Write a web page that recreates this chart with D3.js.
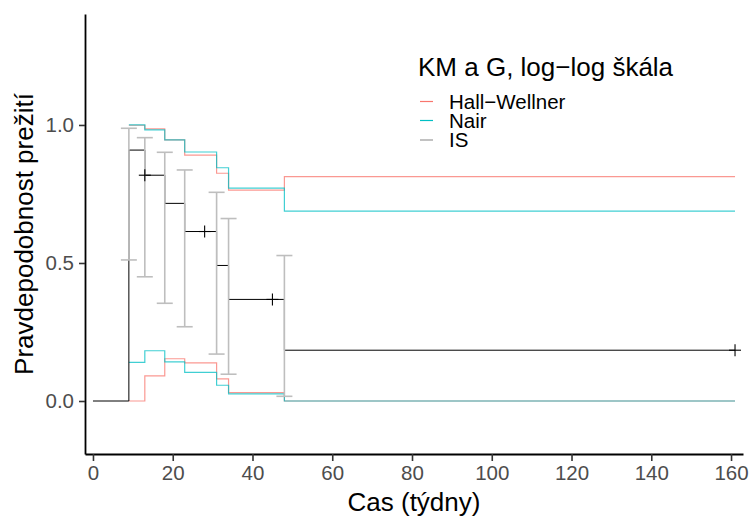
<!DOCTYPE html>
<html>
<head>
<meta charset="utf-8">
<script src="https://cdn.jsdelivr.net/npm/d3@7"></script>
<style>
  html, body { margin: 0; padding: 0; background: #fff; }
  svg { display: block; font-family: "Liberation Sans", Arial, Helvetica, sans-serif; }
</style>
</head>
<body>
<svg id="chart" width="753" height="519"></svg>
<script>
// Kaplan–Meier estimate (AML, maintained group) with confidence bands on log−log scale
const kmTimes  = [0, 9, 13, 18, 23, 31, 34, 48, 161];
const kmSurv   = [0, 0.909, 0.818, 0.716, 0.614, 0.491, 0.368, 0.184, 0.184];

const censorTimes = [13, 28, 45, 161];
const censorSurv  = [0.818, 0.614, 0.368, 0.184];

// Simultaneous bands
const bandTimes = [9, 13, 18, 23, 31, 34, 48, 161];
const hwUpper   = [0.999, 0.986, 0.946, 0.891, 0.825, 0.764, 0.813, 0.813];
const hwLower   = [0.000, 0.091, 0.153, 0.138, 0.080, 0.030, 0.000, 0.000];
const nairUpper = [1.000, 0.982, 0.946, 0.902, 0.845, 0.771, 0.688, 0.688];
const nairLower = [0.140, 0.182, 0.142, 0.104, 0.057, 0.026, 0.000, 0.000];

// Pointwise intervals at event times
const isTimes = [9, 13, 18, 23, 31, 34, 48];
const isUpper = [0.988, 0.954, 0.901, 0.837, 0.756, 0.661, 0.527];
const isLower = [0.511, 0.450, 0.354, 0.269, 0.170, 0.097, 0.017];

const xTicks = [0, 20, 40, 60, 80, 100, 120, 140, 160];
const yTicks = [0, 0.5, 1.0];

const legendTitle = "KM a G, log\u2212log škála";
const legendLabels = ["Hall\u2212Wellner", "Nair", "IS"];
const legendColors = ["#F8766D", "#00BFC4", "#999999"];

const svg = d3.select("#chart");
const panel = { left: 85, right: 743, top: 14, bottom: 454 };

const x = d3.scaleLinear().domain([-2, 163]).range([panel.left, panel.right]);
const y = d3.scaleLinear().domain([-0.192, 1.402]).range([panel.bottom, panel.top]);

const stepLine = d3.line().curve(d3.curveStepAfter).x(d => x(d[0])).y(d => y(d[1]));
const zip = (a, b) => a.map((v, i) => [v, b[i]]);

const g = svg.append("g");

// bands
[[hwUpper, "#F8766D"], [hwLower, "#F8766D"], [nairUpper, "#00BFC4"], [nairLower, "#00BFC4"]]
  .forEach(([vals, col]) => {
    g.append("path")
      .attr("d", stepLine(zip(bandTimes, vals)))
      .attr("fill", "none")
      .attr("stroke", col)
      .attr("stroke-opacity", 0.75)
      .attr("stroke-width", 1.2);
  });

// KM curve
g.append("path")
  .attr("d", stepLine(zip(kmTimes, kmSurv)))
  .attr("fill", "none")
  .attr("stroke", "#000")
  .attr("stroke-width", 1);

// pointwise error bars
const capHalf = 8;
const eb = g.append("g").attr("stroke", "#BEBEBE").attr("stroke-width", 1.6).attr("fill", "none");
isTimes.forEach((t, i) => {
  const cx = x(t);
  eb.append("line").attr("x1", cx).attr("x2", cx).attr("y1", y(isLower[i])).attr("y2", y(isUpper[i]));
  eb.append("line").attr("x1", cx - capHalf).attr("x2", cx + capHalf).attr("y1", y(isUpper[i])).attr("y2", y(isUpper[i]));
  eb.append("line").attr("x1", cx - capHalf).attr("x2", cx + capHalf).attr("y1", y(isLower[i])).attr("y2", y(isLower[i]));
});

// censoring marks
const cm = g.append("g").attr("stroke", "#000").attr("stroke-width", 1.1);
censorTimes.forEach((t, i) => {
  const cx = x(t), cy = y(censorSurv[i]), s = 6;
  cm.append("line").attr("x1", cx - s).attr("x2", cx + s).attr("y1", cy).attr("y2", cy);
  cm.append("line").attr("x1", cx).attr("x2", cx).attr("y1", cy - s).attr("y2", cy + s);
});

// axes
const xAxis = svg.append("g")
  .attr("transform", `translate(0,${panel.bottom})`)
  .call(d3.axisBottom(x).tickValues(xTicks).tickFormat(d3.format("d")).tickSize(7).tickSizeOuter(0).tickPadding(4));
const yAxis = svg.append("g")
  .attr("transform", `translate(${panel.left},0)`)
  .call(d3.axisLeft(y).tickValues(yTicks).tickFormat(d3.format(".1f")).tickSize(6).tickSizeOuter(0).tickPadding(5));

[xAxis, yAxis].forEach(ax => {
  ax.select(".domain").attr("stroke", "#000").attr("stroke-width", 1.8);
  ax.selectAll(".tick line").attr("stroke", "#333").attr("stroke-width", 1.6);
  ax.selectAll(".tick text").attr("fill", "#4D4D4D").style("font-size", "20.5px")
    .style("font-family", "'Liberation Sans', Arial, sans-serif");
});

// axis titles
svg.append("text")
  .attr("x", (panel.left + panel.right) / 2).attr("y", 511)
  .attr("text-anchor", "middle").style("font-size", "26px").attr("fill", "#000")
  .text("Cas (týdny)");
svg.append("text")
  .attr("transform", `translate(33,${(panel.top + panel.bottom) / 2}) rotate(-90)`)
  .attr("text-anchor", "middle").style("font-size", "26px").attr("fill", "#000")
  .text("Pravdepodobnost prežití");

// legend
const lg = svg.append("g");
lg.append("text").attr("x", 418).attr("y", 76).style("font-size", "26px").text(legendTitle);
legendLabels.forEach((lab, i) => {
  const ky = [101.5, 120.5, 140][i];
  lg.append("line").attr("x1", 420).attr("x2", 433).attr("y1", ky).attr("y2", ky)
    .attr("stroke", legendColors[i]).attr("stroke-width", 1.2);
  lg.append("text").attr("x", 449).attr("y", ky + 7).style("font-size", "20.5px").text(lab);
});
</script>
</body>
</html>
